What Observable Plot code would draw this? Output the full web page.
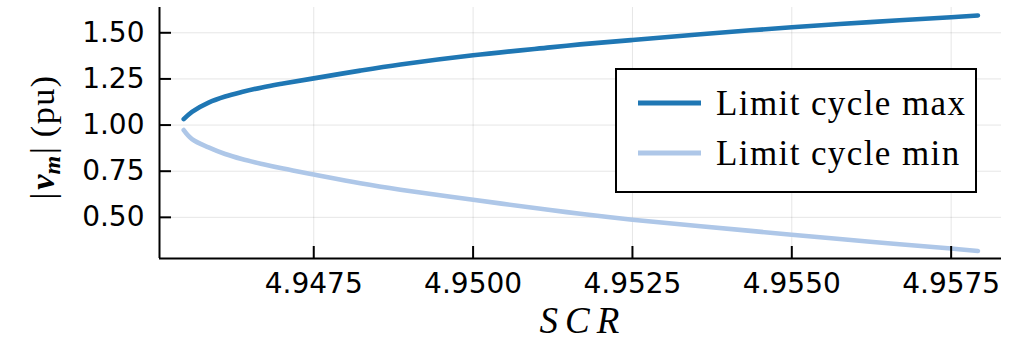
<!DOCTYPE html>
<html><head><meta charset="utf-8">
<script src="https://cdn.jsdelivr.net/npm/d3@7"></script>
<script src="https://cdn.jsdelivr.net/npm/@observablehq/plot@0.6"></script>
<style>
body{margin:0;background:#fff;}
#wrap{position:relative;width:1018px;height:342px;}
</style></head><body><div id="wrap"></div>
<script>
const scr  = [4.94546, 4.94559, 4.94585, 4.94611, 4.94637, 4.94669, 4.94702, 4.94750, 4.94823, 4.94886, 4.95000, 4.95121, 4.95168, 4.95250, 4.95357, 4.95500, 4.95623, 4.95750, 4.95792];
const vMax = [1.032, 1.072, 1.122, 1.155, 1.179, 1.204, 1.225, 1.253, 1.295, 1.328, 1.378, 1.421, 1.437, 1.461, 1.492, 1.530, 1.558, 1.584, 1.594];
const vMin = [0.973, 0.924, 0.879, 0.843, 0.816, 0.789, 0.764, 0.732, 0.685, 0.650, 0.595, 0.540, 0.519, 0.487, 0.452, 0.406, 0.368, 0.331, 0.318];
const seriesNames = ["Limit cycle max", "Limit cycle min"];
const seriesColors = ["#1f77b4", "#aec7e8"];
const xTicks = [4.9475, 4.9500, 4.9525, 4.9550, 4.9575];
const xTickLabels = ["4.9475", "4.9500", "4.9525", "4.9550", "4.9575"];
const yTicks = [0.50, 0.75, 1.00, 1.25, 1.50];
const yTickLabels = ["0.50", "0.75", "1.00", "1.25", "1.50"];
const xDomain = [4.94508, 4.95829];
const yDomain = [0.277, 1.637];
const xLabel = "SCR";

const rows = scr.flatMap((x, i) => [
  {x, y: vMax[i], s: seriesNames[0]},
  {x, y: vMin[i], s: seriesNames[1]}
]);

const chart = Plot.plot({
  width: 1018, height: 342,
  marginLeft: 159, marginRight: 17, marginTop: 7, marginBottom: 84,
  x: {domain: xDomain},
  y: {domain: yDomain},
  color: {domain: seriesNames, range: seriesColors},
  style: {fontFamily: "DejaVu Sans", fontSize: "28px", color: "#000", background: "#fff", overflow: "visible"},
  marks: [
    Plot.gridX(xTicks, {stroke: "#000", strokeOpacity: 0.1, strokeWidth: 1}),
    Plot.gridY(yTicks, {stroke: "#000", strokeOpacity: 0.1, strokeWidth: 1}),
    Plot.line(rows, {x: "x", y: "y", z: "s", stroke: "s", strokeWidth: 4.6, strokeLinecap: "round", curve: "catmull-rom"}),
    Plot.axisX(xTicks, {tickSize: -12, strokeWidth: 2, tickFormat: () => "", label: null}),
    Plot.axisX(xTicks, {tickSize: 0, tickPadding: 15, fontSize: 28, tickFormat: d => xTickLabels[xTicks.indexOf(d)], label: null}),
    Plot.axisY(yTicks, {tickSize: -12, strokeWidth: 2, tickFormat: () => "", label: null}),
    Plot.axisY(yTicks, {tickSize: 0, tickPadding: 15, fontSize: 28, tickFormat: d => yTickLabels[yTicks.indexOf(d)], label: null}),
    Plot.ruleX([xDomain[0]], {stroke: "#000", strokeWidth: 2}),
    Plot.ruleY([yDomain[0]], {stroke: "#000", strokeWidth: 2})
  ]
});
document.getElementById("wrap").appendChild(chart);

const svg = d3.select(chart);
// x label
svg.append("text")
  .attr("x", 583).attr("y", 333)
  .attr("text-anchor", "middle")
  .attr("font-family", "Liberation Serif").attr("font-style", "italic")
  .attr("font-size", 37).attr("letter-spacing", 7)
  .attr("fill", "#000").text(xLabel);

// y label
const yl = svg.append("text")
  .attr("transform", "translate(54,137) rotate(-90)")
  .attr("text-anchor", "middle")
  .attr("font-family", "Liberation Serif").attr("font-size", 34).attr("fill", "#000");
yl.append("tspan").text("|");
yl.append("tspan").attr("font-weight", "bold").attr("font-style", "italic").attr("dx", 3).text("v");
yl.append("tspan").attr("font-weight", "bold").attr("font-style", "italic").attr("font-size", 24).attr("dy", 6).text("m");
yl.append("tspan").attr("dy", -6).attr("dx", 2).text("|");
yl.append("tspan").attr("dx", 10).attr("letter-spacing", 1.5).text("(pu)");

// legend
const lg = svg.append("g");
lg.append("rect").attr("x", 616).attr("y", 69).attr("width", 360).attr("height", 123)
  .attr("fill", "#fff").attr("stroke", "#000").attr("stroke-width", 2);
seriesNames.forEach((name, i) => {
  const cy = 103 + i * 50;
  lg.append("line").attr("x1", 638).attr("x2", 701).attr("y1", cy).attr("y2", cy)
    .attr("stroke", seriesColors[i]).attr("stroke-width", 5);
  lg.append("text").attr("x", 716).attr("y", cy + 12)
    .attr("text-anchor", "start")
    .attr("font-family", "Liberation Serif").attr("font-size", 35).attr("letter-spacing", 1.4)
    .attr("fill", "#000").text(name);
});
</script></body></html>
